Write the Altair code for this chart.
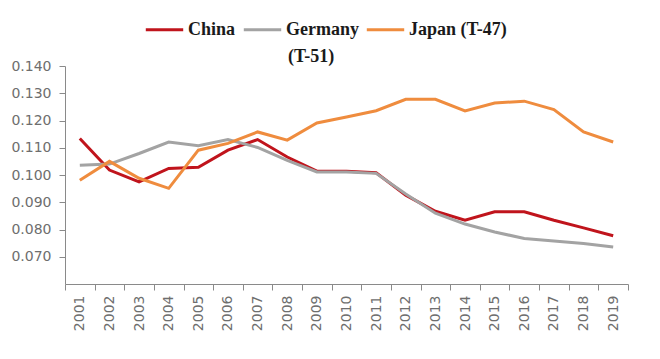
import altair as alt
import pandas as pd

years = [str(y) for y in range(2001, 2020)]
china = [0.1134, 0.1018, 0.0975, 0.1024, 0.1028, 0.1091, 0.1130, 0.1066, 0.1014, 0.1014,
         0.1008, 0.0926, 0.0867, 0.0834, 0.0865, 0.0865, 0.0834, 0.0806, 0.0777]
germany = [0.1036, 0.1040, 0.1079, 0.1121, 0.1107, 0.1130, 0.1101, 0.1054, 0.1011, 0.1011,
           0.1006, 0.0930, 0.0860, 0.0820, 0.0791, 0.0767, 0.0758, 0.0749, 0.0736]
japan = [0.0981, 0.1050, 0.0988, 0.0951, 0.1091, 0.1116, 0.1158, 0.1128, 0.1191, 0.1213,
         0.1236, 0.1278, 0.1278, 0.1235, 0.1264, 0.1271, 0.1240, 0.1158, 0.1121]
series_names = ["China", "Germany", "Japan (T-47)"]
series_colors = ["#c0141c", "#a3a3a3", "#ef8c3e"]
y_ticks = [0.07, 0.08, 0.09, 0.10, 0.11, 0.12, 0.13, 0.14]

rows = []
for name, vals in zip(series_names, [china, germany, japan]):
    for yr, v in zip(years, vals):
        rows.append({"year": yr, "value": v, "series": name})
df = pd.DataFrame(rows)

lines = alt.Chart(df).mark_line(strokeWidth=3).encode(
    x=alt.X("year:N", sort=years, title=None,
            scale=alt.Scale(paddingInner=0, paddingOuter=0),
            axis=alt.Axis(labelAngle=-90, tickBand="extent", labelFont="DejaVu Sans",
                          labelFontSize=14, labelColor="#6e6e6e", domainColor="#8a8a8a",
                          tickColor="#8a8a8a", tickSize=6, labelPadding=5, grid=False)),
    y=alt.Y("value:Q", title=None,
            scale=alt.Scale(domain=[0.06, 0.14], nice=False, zero=False),
            axis=alt.Axis(values=y_ticks, format=".3f", labelFont="DejaVu Sans",
                          labelFontSize=14, labelColor="#6e6e6e", domainColor="#8a8a8a",
                          tickColor="#8a8a8a", tickSize=6, labelPadding=8, grid=False)),
    color=alt.Color("series:N", sort=series_names,
                    scale=alt.Scale(domain=series_names, range=series_colors),
                    legend=alt.Legend(title=None, orient="none", direction="horizontal",
                                      legendX=79, legendY=-57, symbolType="stroke",
                                      symbolSize=1400, symbolStrokeWidth=3,
                                      labelFont="Liberation Serif", labelFontWeight="bold",
                                      labelFontSize=18, labelColor="#1a1a1a",
                                      labelOffset=3, columnPadding=1, padding=0)),
)

sub = alt.Chart(pd.DataFrame({"t": ["(T-51)"]})).mark_text(
    font="Liberation Serif", fontWeight="bold", fontSize=18, color="#1a1a1a",
    align="left", baseline="middle"
).encode(text="t:N", x=alt.value(223), y=alt.value(-9))

chart = alt.layer(lines, sub).properties(
    width=563, height=218,
    autosize=alt.AutoSizeParams(type="none"),
    padding={"left": 57, "top": 58, "right": 20, "bottom": 60},
).configure_view(stroke=None)

chart.save("out.html", embed_options={"renderer": "svg", "actions": False})
